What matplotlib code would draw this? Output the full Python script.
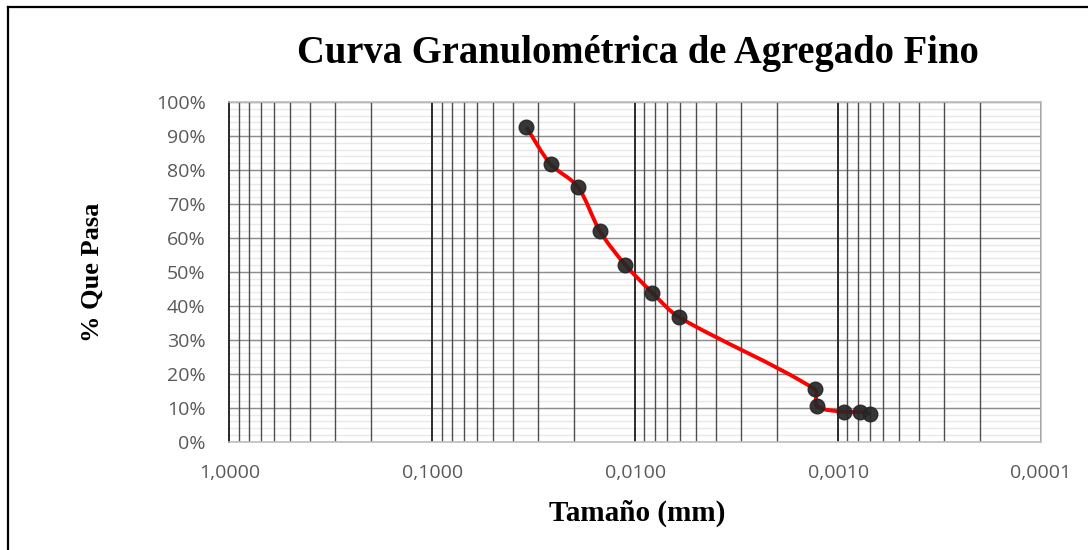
import numpy as np
import matplotlib.pyplot as plt
from matplotlib.path import Path
from matplotlib.patches import PathPatch
from matplotlib.ticker import FixedLocator, FuncFormatter, LogLocator, NullFormatter
from matplotlib.lines import Line2D

# tamaño de partícula (mm) y porcentaje que pasa
tamano_mm = [0.0344, 0.0261, 0.0192, 0.0149, 0.0112, 0.00825, 0.00610,
             0.00130, 0.00127, 0.000937, 0.000782, 0.000696]
pct_pasa = [92.6, 81.7, 75.1, 61.9, 52.1, 43.9, 36.7,
            15.4, 10.5, 8.8, 8.8, 8.2]

x_ticks = [1.0, 0.1, 0.01, 0.001, 0.0001]
y_ticks = list(range(0, 101, 10))
y_minor = list(range(0, 101, 2))

fig = plt.figure(figsize=(10.88, 5.5), dpi=100)
ax = fig.add_axes([229.3 / 1088, 1 - 441.7 / 550, (1041 - 229.3) / 1088, (441.7 - 102) / 550])

ax.set_xscale("log")
ax.set_xlim(1.0, 0.0001)
ax.set_ylim(0, 100)

ax.xaxis.set_major_locator(FixedLocator(x_ticks))
ax.xaxis.set_minor_locator(LogLocator(base=10, subs=np.arange(2, 10)))
ax.xaxis.set_minor_formatter(NullFormatter())
ax.xaxis.set_major_formatter(FuncFormatter(lambda v, p: f"{v:.4f}".replace(".", ",")))
ax.yaxis.set_major_locator(FixedLocator(y_ticks))
ax.yaxis.set_major_formatter(FuncFormatter(lambda v, p: f"{v:.0f}%"))

# rejilla: horizontales primero, verticales encima
ax.hlines(y_minor, 1.0, 0.0001, color="#e8e8e8", lw=1.0, zorder=0.1)
ax.hlines(y_ticks, 1.0, 0.0001, color="#8c8c8c", lw=1.0, zorder=0.2)
ax.grid(which="minor", axis="x", color="#4d4d4d", lw=1.0)
ax.grid(which="major", axis="x", color="#2b2b2b", lw=1.4)
ax.set_axisbelow(True)

ax.tick_params(which="both", length=0)
ax.tick_params(axis="y", pad=17, labelsize=14, labelcolor="#595959")
ax.tick_params(axis="x", pad=16, labelsize=14, labelcolor="#595959")
for lab in ax.get_xticklabels() + ax.get_yticklabels():
    lab.set_family("Open Sans")

for s in ["top", "right", "bottom"]:
    ax.spines[s].set_color("#bfbfbf")
    ax.spines[s].set_linewidth(1.2)
ax.spines["left"].set_color("#2b2b2b")
ax.spines["left"].set_linewidth(1.4)

# curva suavizada (Bezier) con asas proporcionales al tramo
sx = np.log10(tamano_mm) * 203.0
sy = np.array(pct_pasa) * 3.4
pts = np.column_stack([sx, sy])
n = len(pts)
verts = [(tamano_mm[0], pct_pasa[0])]
codes = [Path.MOVETO]
for i in range(n - 1):
    p0 = pts[max(i - 1, 0)]
    p1 = pts[i]
    p2 = pts[i + 1]
    p3 = pts[min(i + 2, n - 1)]
    seg = np.linalg.norm(p2 - p1)
    d1 = p2 - p0
    d2 = p3 - p1
    c1 = p1 + d1 / np.linalg.norm(d1) * seg * 0.3
    c2 = p2 - d2 / np.linalg.norm(d2) * seg * 0.3
    for c in (c1, c2, p2):
        verts.append((10 ** (c[0] / 203.0), c[1] / 3.4))
        codes.append(Path.CURVE4)
ax.add_patch(PathPatch(Path(verts, codes), facecolor="none", edgecolor="#ff0000",
                       lw=2.8, zorder=3))
ax.plot(tamano_mm, pct_pasa, linestyle="none", marker="o", ms=10.5,
        mfc="#262626", mec="#262626", alpha=0.92, zorder=4)

fig.text(638 / 1088, 1 - 53 / 550, "Curva Granulométrica de Agregado Fino",
         family="Liberation Serif", weight="bold", fontsize=27.8,
         ha="center", va="center")
fig.text(92 / 1088, 1 - 272 / 550, "% Que Pasa", family="Liberation Serif",
         weight="bold", fontsize=19, rotation=90, ha="center", va="center")
fig.text(637 / 1088, 1 - 513 / 550, "Tamaño (mm)", family="Liberation Serif",
         weight="bold", fontsize=21, ha="center", va="center")

# borde del gráfico
fig.add_artist(Line2D([8 / 1088, 1.0], [1 - 6.5 / 550, 1 - 6.5 / 550],
                      transform=fig.transFigure, color="black", lw=1.6))
fig.add_artist(Line2D([8 / 1088, 8 / 1088], [0.0, 1 - 6.5 / 550],
                      transform=fig.transFigure, color="black", lw=1.6))

fig.savefig("out.png", dpi=100)
